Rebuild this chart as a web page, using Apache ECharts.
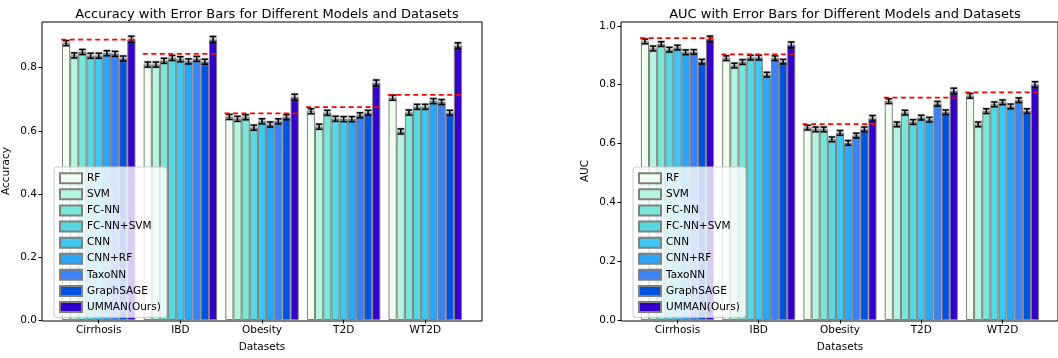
<!DOCTYPE html>
<html><head><meta charset="utf-8">
<script src="https://cdn.jsdelivr.net/npm/echarts@6/dist/echarts.min.js"></script>
<style>html,body{margin:0;padding:0;background:#fff}#c{width:1058px;height:358px}</style>
</head><body><div id="c"></div>
<script>
// ---------- data ----------
const datasets = ['Cirrhosis', 'IBD', 'Obesity', 'T2D', 'WT2D'];
const models = ['RF', 'SVM', 'FC-NN', 'FC-NN+SVM', 'CNN', 'CNN+RF', 'TaxoNN', 'GraphSAGE', 'UMMAN(Ours)'];
const modelColors = ['#f0fff0', '#b4f5e0', '#7ae6d8', '#58d8e2', '#3cc8f2', '#28a8fa', '#3a82f8', '#0052e0', '#3300cc'];

// accuracy per model, across datasets
const accRF        = [0.878, 0.810, 0.644, 0.662, 0.705];
const accSVM       = [0.839, 0.810, 0.638, 0.613, 0.598];
const accFCNN      = [0.850, 0.822, 0.643, 0.657, 0.658];
const accFCNNSVM   = [0.838, 0.831, 0.610, 0.638, 0.676];
const accCNN       = [0.838, 0.827, 0.630, 0.637, 0.676];
const accCNNRF     = [0.846, 0.820, 0.620, 0.637, 0.694];
const accTaxoNN    = [0.844, 0.828, 0.630, 0.649, 0.691];
const accGraphSAGE = [0.829, 0.819, 0.643, 0.657, 0.657];
const accUMMAN     = [0.890, 0.889, 0.706, 0.751, 0.869];
const accErr       = [0.008, 0.008, 0.008, 0.008, 0.008];
const accErrUMMAN  = [0.010, 0.010, 0.010, 0.010, 0.010];
const accRef       = [0.889, 0.844, 0.655, 0.675, 0.714];

// AUC per model, across datasets
const aucRF        = [0.947, 0.890, 0.654, 0.744, 0.762];
const aucSVM       = [0.923, 0.865, 0.648, 0.665, 0.665];
const aucFCNN      = [0.938, 0.877, 0.648, 0.705, 0.710];
const aucFCNNSVM   = [0.919, 0.892, 0.614, 0.673, 0.733];
const aucCNN       = [0.926, 0.892, 0.636, 0.688, 0.740];
const aucCNNRF     = [0.910, 0.834, 0.602, 0.681, 0.726];
const aucTaxoNN    = [0.911, 0.890, 0.627, 0.735, 0.747];
const aucGraphSAGE = [0.878, 0.878, 0.648, 0.706, 0.710];
const aucUMMAN     = [0.955, 0.935, 0.685, 0.778, 0.800];
const aucErr       = [0.008, 0.008, 0.008, 0.008, 0.008];
const aucErrUMMAN  = [0.010, 0.010, 0.010, 0.010, 0.010];
const aucRef       = [0.958, 0.903, 0.666, 0.756, 0.774];

const yTicks = [0.0, 0.2, 0.4, 0.6, 0.8, 1.0];
const accYMax = 0.945;
const aucYMax = 1.013;

// ---------- build ----------
const accValues = [accRF, accSVM, accFCNN, accFCNNSVM, accCNN, accCNNRF, accTaxoNN, accGraphSAGE, accUMMAN];
const aucValues = [aucRF, aucSVM, aucFCNN, aucFCNNSVM, aucCNN, aucCNNRF, aucTaxoNN, aucGraphSAGE, aucUMMAN];

const FONT = 'DejaVu Sans';
const frames = [{left: 42, top: 22, width: 440, height: 299}, {left: 621, top: 22, width: 438, height: 299}];
const span = 5.39; // x-extent in category units (matplotlib margins)
const barGrids = frames.map(f => {
  const band = f.width / span;
  const inset = f.width * (span - 5) / 2 / span;
  return {left: f.left + inset, top: f.top, width: band * 5, height: f.height, inset};
});

const grid = [];
const xAxis = [];
const yAxis = [];
const series = [];
const nM = models.length;

function errRender(params, api) {
  const ci = api.value(0), mi = api.value(1), v = api.value(2), e = api.value(3);
  const band = api.size([1, 0])[0];
  const bw = band * 0.9 / nM;
  const c = api.coord([ci, v]);
  const cx = c[0] + (mi - (nM - 1) / 2) * bw;
  const yt = api.coord([ci, v + e])[1];
  const yb = api.coord([ci, v - e])[1];
  const cap = 3.2;
  return {type: 'group', children: [
    {type: 'rect', shape: {x: cx - bw / 2, y: yt - 1.5, width: bw, height: yb - yt + 3}, style: {fill: 'rgba(120,120,120,0.35)'}},
    {type: 'line', shape: {x1: cx, y1: yt, x2: cx, y2: yb}, style: {stroke: '#000', lineWidth: 1.5}},
    {type: 'line', shape: {x1: cx - cap, y1: yt, x2: cx + cap, y2: yt}, style: {stroke: '#000', lineWidth: 1.5}},
    {type: 'line', shape: {x1: cx - cap, y1: yb, x2: cx + cap, y2: yb}, style: {stroke: '#000', lineWidth: 1.5}}
  ]};
}
function refRender(params, api) {
  const ci = api.value(0), v = api.value(1);
  const band = api.size([1, 0])[0];
  const c = api.coord([ci, v]);
  return {type: 'line', shape: {x1: c[0] - band * 0.46, y1: c[1], x2: c[0] + band * 0.46, y2: c[1]},
    style: {stroke: '#ff0000', lineWidth: 1.8, lineDash: [5, 3.5]}};
}

const charts = [
  {values: accValues, err: accErr, errU: accErrUMMAN, ref: accRef, yMax: accYMax, yName: 'Accuracy',
   title: 'Accuracy with Error Bars for Different Models and Datasets'},
  {values: aucValues, err: aucErr, errU: aucErrUMMAN, ref: aucRef, yMax: aucYMax, yName: 'AUC',
   title: 'AUC with Error Bars for Different Models and Datasets'}
];

charts.forEach((ch, k) => {
  const bg = barGrids[k], fr = frames[k];
  grid.push({left: bg.left, top: bg.top, width: bg.width, height: bg.height, containLabel: false});
  grid.push({left: fr.left, top: fr.top, width: fr.width, height: fr.height, show: true,
    borderColor: '#000', borderWidth: 1, backgroundColor: 'transparent', z: 5});
  const gi = k * 2;
  const ticks = yTicks.filter(t => t <= ch.yMax + 1e-9);
  xAxis.push({type: 'category', gridIndex: gi, data: datasets,
    axisLine: {show: false},
    axisTick: {show: true, alignWithLabel: true, length: 3.5, inside: false, lineStyle: {color: '#000', width: 1}},
    axisLabel: {color: '#000', fontFamily: FONT, fontSize: 10.5, margin: 5},
    name: 'Datasets', nameLocation: 'middle', nameGap: 22,
    nameTextStyle: {color: '#000', fontFamily: FONT, fontSize: 10.5}});
  yAxis.push({type: 'value', gridIndex: gi, min: 0, max: ch.yMax, offset: bg.inset,
    axisLine: {show: false},
    splitLine: {show: false},
    axisTick: {show: true, length: 3.5, customValues: ticks, lineStyle: {color: '#000', width: 1}},
    axisLabel: {customValues: ticks, color: '#000', fontFamily: FONT, fontSize: 10.5, margin: 5,
      formatter: v => v.toFixed(1)},
    name: ch.yName, nameLocation: 'middle', nameGap: 30,
    nameTextStyle: {color: '#000', fontFamily: FONT, fontSize: 10.5}});
  xAxis.push({type: 'value', gridIndex: gi + 1, show: false, min: 0, max: 1});
  yAxis.push({type: 'value', gridIndex: gi + 1, show: false, min: 0, max: 1});

  models.forEach((m, mi) => {
    series.push({type: 'bar', name: m, xAxisIndex: gi, yAxisIndex: gi,
      data: ch.values[mi], barGap: '0%', barCategoryGap: '10%',
      itemStyle: {color: modelColors[mi], borderColor: '#808080', borderWidth: 1},
      emphasis: {disabled: true}, z: 2, animation: false});
  });
  const errData = [];
  models.forEach((m, mi) => {
    const errs = mi === nM - 1 ? ch.errU : ch.err;
    datasets.forEach((d, ci) => errData.push([ci, mi, ch.values[mi][ci], errs[ci]]));
  });
  series.push({type: 'custom', name: 'err' + k, xAxisIndex: gi, yAxisIndex: gi, data: errData,
    encode: {x: 0, y: 2}, renderItem: errRender, z: 3, animation: false, silent: true});
  series.push({type: 'custom', name: 'ref' + k, xAxisIndex: gi, yAxisIndex: gi,
    data: datasets.map((d, ci) => [ci, ch.ref[ci]]),
    encode: {x: 0, y: 1}, renderItem: refRender, z: 4, animation: false, silent: true});
});

const legendBase = {orient: 'vertical', icon: 'rect', itemWidth: 22, itemHeight: 10, itemGap: 3.6,
  backgroundColor: 'rgba(255,255,255,0.8)', borderColor: '#cccccc', borderWidth: 1, borderRadius: 3,
  padding: [5, 6, 4, 5], textStyle: {color: '#000', fontFamily: FONT, fontSize: 10.5, lineHeight: 12.5},
  data: models, selectedMode: false, z: 10};

const option = {
  animation: false,
  backgroundColor: '#fff',
  title: charts.map((ch, k) => ({text: ch.title, left: frames[k].left + frames[k].width / 2, top: 3,
    textAlign: 'center',
    textStyle: {color: '#000', fontFamily: FONT, fontSize: 13, fontWeight: 'normal'}})),
  legend: [
    Object.assign({}, legendBase, {left: frames[0].left + 12, top: 167}),
    Object.assign({}, legendBase, {left: frames[1].left + 12, top: 167})
  ],
  grid, xAxis, yAxis, series
};
const chart = echarts.init(document.getElementById('c'), null, {renderer: 'canvas'});
chart.setOption(option);
</script></body></html>
